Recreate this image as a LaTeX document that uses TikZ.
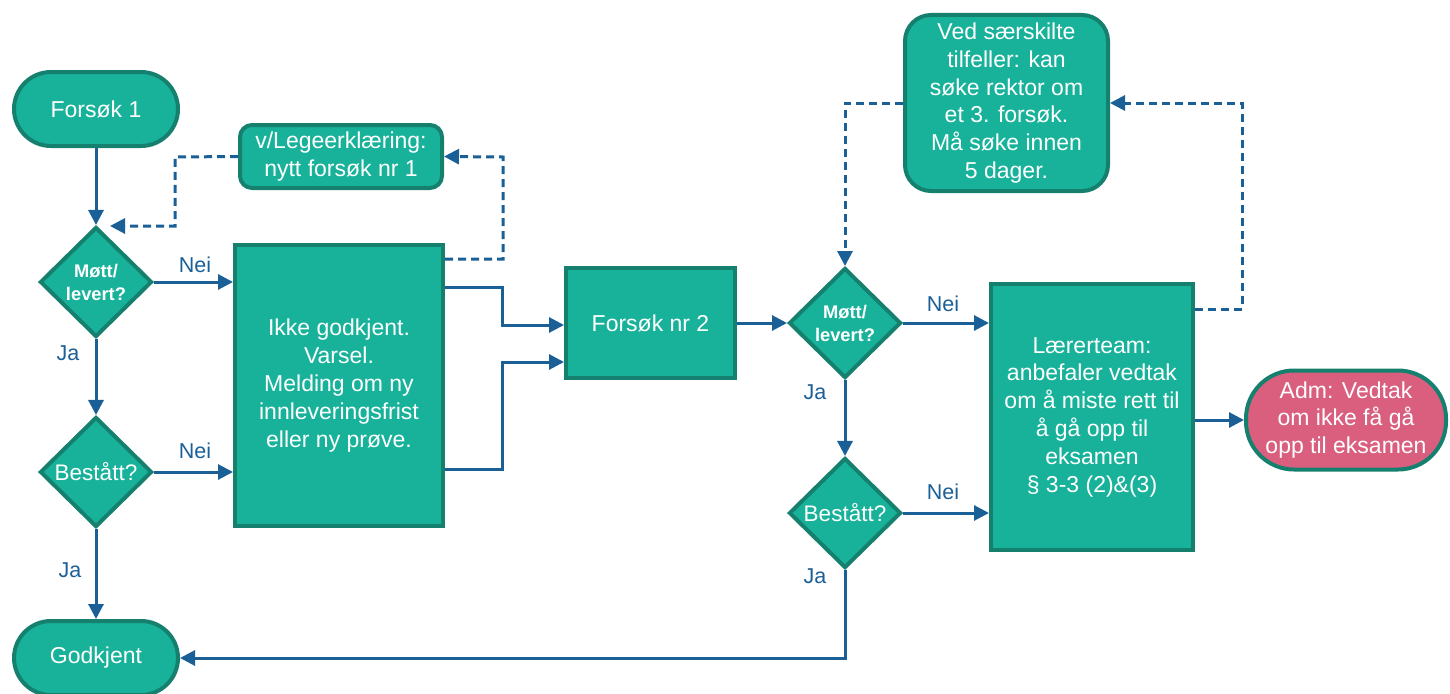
\documentclass[tikz,border=0pt]{standalone}
\usepackage{fontspec}
\setmainfont{Liberation Sans}
\usetikzlibrary{shapes.geometric,arrows.meta}
\definecolor{tealf}{HTML}{18B29B}
\definecolor{tealb}{HTML}{16806E}
\definecolor{arr}{HTML}{1B5F97}
\definecolor{pinkf}{HTML}{DA5E7E}
\begin{document}
\begin{tikzpicture}[x=1pt,y=-1pt,
  base/.style={draw=tealb,fill=tealf,line width=4pt,text=white,align=center,
    font=\fontsize{23}{27.8}\selectfont,inner sep=0pt},
  stadium/.style={base,rectangle,rounded corners=37pt,minimum width=164pt,minimum height=74pt},
  rbox/.style={base,rectangle,rounded corners=#1},
  sbox/.style={base,rectangle},
  dia/.style={base,diamond,minimum width=112pt,minimum height=110pt},
  mdia/.style={dia,font=\bfseries\fontsize{18.3}{23}\selectfont},
  bdia/.style={dia,font=\fontsize{22.5}{27}\selectfont},
  lbl/.style={text=arr,font=\fontsize{21.5}{24}\selectfont,inner sep=0pt},
  arrow/.style={draw=arr,line width=3pt,-{Triangle[length=15pt,width=15pt]}},
  darrow/.style={arrow,dash pattern=on 8pt off 5pt},
]
\useasboundingbox (0,0) rectangle (1450,693);

% left part
\node[stadium] (f1) at (96,109) {Forsøk 1};
\node[rbox=12pt,minimum width=202pt,minimum height=63pt] (leg) at (341,156.5) {v/Legeerklæring:\\nytt forsøk nr 1};
\node[mdia] (d1) at (96,282) {Møtt/\\levert?};
\node[bdia] (b1) at (96,472) {Bestått?};
\node[sbox,minimum width=208pt,minimum height=281pt] (big) at (339,385.5)
  {Ikke godkjent.\\Varsel.\\Melding om ny\\innleveringsfrist\\eller ny prøve.};
\node[stadium] (gk) at (96,658) {Godkjent};

% middle / right part
\node[sbox,minimum width=169pt,minimum height=110pt] (f2) at (650.5,323) {Forsøk nr 2};
\node[mdia] (d2) at (845,323) {Møtt/\\levert?};
\node[bdia] (b2) at (845,513) {Bestått?};
\node[sbox,minimum width=202pt,minimum height=266pt] (lt) at (1092,417)
  {Lærerteam:\\anbefaler vedtak\\om å miste rett til\\å gå opp til\\eksamen\\§ 3-3 (2)\&(3)};
\node[rbox=26pt,minimum width=203pt,minimum height=176pt] (ved) at (1006.5,103)
  {Ved særskilte\\tilfeller: kan\\søke rektor om\\et 3. forsøk.\\Må søke innen\\5 dager.};
\node[base,fill=pinkf,rectangle,rounded corners=48pt,minimum width=200pt,minimum height=99pt] (adm) at (1346,420)
  {Adm: Vedtak\\om ikke få gå\\opp til eksamen};

% labels
\node[lbl] (n1) at (195,265) {Nei};
\node[lbl] (j1) at (68,353) {Ja};
\node[lbl] (n2) at (195,451) {Nei};
\node[lbl] (j2) at (70,570) {Ja};
\node[lbl] (n3) at (943,304) {Nei};
\node[lbl] (j3) at (815,392) {Ja};
\node[lbl] (n4) at (943,492) {Nei};
\node[lbl] (j4) at (815,576) {Ja};

\coordinate (d1tip) at (110,226);

% connectors left
\draw[arrow] (f1) -- (d1);
\draw[arrow] (d1.east) -- (big.west |- d1.east);
\draw[arrow] (d1) -- (b1);
\draw[arrow] (b1.east) -- (big.west |- b1.east);
\draw[arrow] (b1) -- (gk);
\draw[darrow] (big.east |- 0,259) -- (503,259) -- (503,157) -- (leg.east);
\draw[darrow] (leg.west) -- (175,157) -- (175,226) -- (d1tip);
\draw[arrow] (big.east |- 0,287) -- (502,287) -- (502,325) -- (f2.west |- 0,325);
\draw[arrow] (big.east |- 0,469) -- (502,469) -- (502,362) -- (f2.west |- 0,362);

% connectors right
\draw[arrow] (f2) -- (d2);
\draw[arrow] (d2.east) -- (lt.west |- d2.east);
\draw[arrow] (d2) -- (b2);
\draw[arrow] (b2.east) -- (lt.west |- b2.east);
\draw[arrow] (b2.south) |- (gk.east);
\draw[arrow] (lt.east |- adm.west) -- (adm.west);
\draw[darrow] (lt.east |- 0,309) -- (1242,309) -- (1242,103) -- (ved.east);
\draw[darrow] (ved.west) -| (d2.north);
\end{tikzpicture}
\end{document}
